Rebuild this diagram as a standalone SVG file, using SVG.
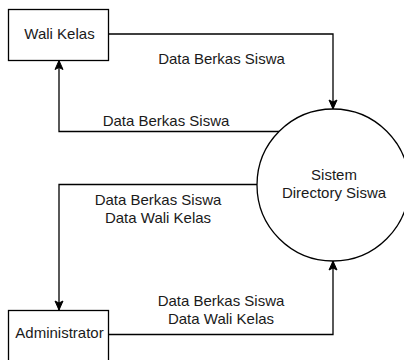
<svg xmlns="http://www.w3.org/2000/svg" width="404" height="360" viewBox="0 0 404 360">
  <style>
    .box { fill: #ffffff; stroke: #000000; stroke-width: 1.3; }
    .proc { fill: #ffffff; stroke: #000000; stroke-width: 1.3; }
    .flow { fill: none; stroke: #000000; stroke-width: 1.3; marker-end: url(#arrow); }
    text { font-family: "Liberation Sans", Arial, Helvetica, sans-serif; font-size: 15px; fill: #1a1a1a; text-anchor: middle; }
  </style>
  <defs>
    <marker id="arrow" viewBox="-10 -5 11 10" refX="0" refY="0" markerWidth="11" markerHeight="10" markerUnits="userSpaceOnUse" orient="auto">
      <path d="M0,0 L-9,-4 L-7,0 L-9,4 Z" fill="#000000" stroke="#000000" stroke-width="1"/>
    </marker>
  </defs>
  <rect width="404" height="360" fill="#ffffff"/>

  <g id="connectors">
    <!-- Wali Kelas to system -->
    <path class="flow" d="M108,34 H333 V109"/>
    <!-- system back to Wali Kelas -->
    <path class="flow" d="M279,131.5 H59 V60.5"/>
    <!-- system to Administrator -->
    <path class="flow" d="M257,184.5 H59 V310"/>
    <!-- Administrator to system -->
    <path class="flow" d="M108,334.5 H333 V261"/>
    <text x="221.5" y="63.5">Data Berkas Siswa</text>
    <text x="166" y="126">Data Berkas Siswa</text>
    <text x="158" y="205">Data Berkas Siswa</text>
    <text x="158" y="223">Data Wali Kelas</text>
    <text x="221" y="305.5">Data Berkas Siswa</text>
    <text x="221" y="324">Data Wali Kelas</text>
  </g>

  <g id="wali-kelas">
    <rect class="box" x="8.5" y="9.5" width="100" height="51"/>
    <text x="59.5" y="38.5">Wali Kelas</text>
  </g>

  <g id="sistem-directory-siswa">
    <circle class="proc" cx="333" cy="185" r="76"/>
    <text x="334" y="180">Sistem</text>
    <text x="334" y="198">Directory Siswa</text>
  </g>

  <g id="administrator">
    <rect class="box" x="8.5" y="310.5" width="100" height="60"/>
    <text x="59.5" y="338">Administrator</text>
  </g>
</svg>
